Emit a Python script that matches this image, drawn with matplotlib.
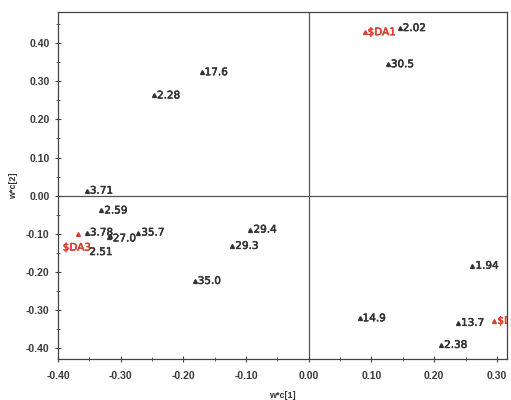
import matplotlib
matplotlib.use("Agg")
import matplotlib.pyplot as plt
import matplotlib.patheffects as pe
from matplotlib.ticker import MultipleLocator, FormatStrFormatter

plt.rcParams['font.family'] = ['Liberation Sans', 'DejaVu Sans']

labels = ["$DA1", "2.02", "30.5", "17.6", "2.28", "3.71", "2.59", "3.78", "$DA3",
          "27.0", "2.51", "35.7", "35.0", "29.4", "29.3", "1.94", "14.9", "13.7",
          "$DA2", "2.38"]
xs = [0.089, 0.145, 0.126, -0.171, -0.247, -0.354, -0.331, -0.354, -0.368,
      -0.317, -0.319, -0.272, -0.182, -0.093, -0.122, 0.261, 0.081, 0.238,
      0.296, 0.211]
ys = [0.429, 0.440, 0.345, 0.324, 0.263, 0.013, -0.039, -0.097, -0.100,
      -0.105, -0.108, -0.097, -0.224, -0.089, -0.132, -0.184, -0.322, -0.334,
      -0.329, -0.392]
is_ref = [True, False, False, False, False, False, False, False, True,
          False, False, False, False, False, False, False, False, False,
          True, False]

label_offsets = {"$DA3": (-11, -10), "2.51": (-14, -11), "27.0": (2, -2)}

fig = plt.figure(figsize=(5.11, 4.0), dpi=100)
ax = fig.add_axes([0.1135, 0.1025, 0.992 - 0.1135, 0.969 - 0.1025])

black = "#333333"
red = "#d8402c"
ax.axhline(0, color="#555555", lw=0.9, zorder=1)
ax.axvline(0, color="#555555", lw=0.9, zorder=1)

for lab, x, y, r in zip(labels, xs, ys, is_ref):
    c = red if r else black
    ax.plot(x, y, marker="^", ms=2.8, color=c, ls="none", zorder=3)
    dx, dy = label_offsets.get(lab, (2.2, 0))
    ax.annotate(lab, (x, y), xytext=(dx, dy), textcoords="offset points",
                fontsize=7.5, color=c, family="DejaVu Sans", ha="left", va="center",
                annotation_clip=False, clip_on=True,
                path_effects=[pe.withStroke(linewidth=0.4, foreground=c)])

ax.set_xlim(-0.40, 0.316)
ax.set_ylim(-0.429, 0.481)
ax.xaxis.set_major_locator(MultipleLocator(0.10))
ax.xaxis.set_minor_locator(MultipleLocator(0.05))
ax.yaxis.set_major_locator(MultipleLocator(0.10))
ax.yaxis.set_minor_locator(MultipleLocator(0.05))
ax.xaxis.set_major_formatter(FormatStrFormatter("%.2f"))
ax.yaxis.set_major_formatter(FormatStrFormatter("%.2f"))
ax.tick_params(which="both", direction="inout", color="#444444", labelsize=7.5,
               labelcolor="#3a3a3a", top=False, right=False)
ax.tick_params(which="major", length=5, width=0.8)
ax.tick_params(which="minor", length=3, width=0.6)
ax.tick_params(axis="x", which="major", pad=6)
for lbl in ax.get_xticklabels() + ax.get_yticklabels():
    lbl.set_fontweight("bold")
for s in ax.spines.values():
    s.set_color("#444444")
    s.set_linewidth(0.9)

ax.set_xlabel("w*c[1]", fontsize=6.5, color="#333333", fontweight="bold", labelpad=7)
ax.set_ylabel("w*c[2]", fontsize=6.5, color="#333333", fontweight="bold", labelpad=6)

fig.savefig("out.png", dpi=100)
